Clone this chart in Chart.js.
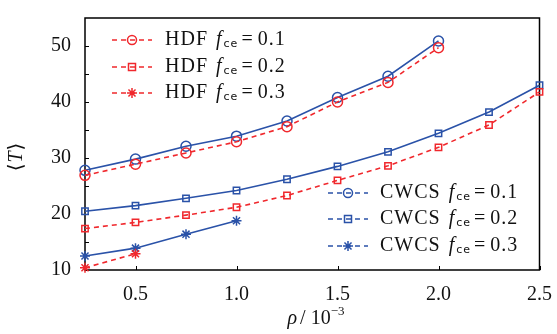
<!DOCTYPE html>
<html>
<head>
<meta charset="utf-8">
<script src="https://cdn.jsdelivr.net/npm/chart.js@4"></script>
<style>
  html, body { margin: 0; padding: 0; background: #fff; }
  #wrap { width: 557px; height: 334px; }
</style>
</head>
<body>
<div id="wrap"><canvas id="tChart" width="557" height="334"></canvas></div>
<script>
// x values (rho / 10^-3)
const rho = [0.25, 0.5, 0.75, 1.0, 1.25, 1.5, 1.75, 2.0, 2.25, 2.5];

// <T> values
const hdf01 = [26.9, 28.9, 30.9, 32.9, 35.6, 40.0, 43.5, 49.7];
const hdf02 = [17.4, 18.5, 19.8, 21.2, 23.3, 26.0, 28.6, 31.9, 35.9, 41.8];
const hdf03 = [10.4, 12.9];
const cwcs01 = [27.8, 29.8, 32.1, 33.9, 36.6, 40.8, 44.6, 50.9];
const cwcs02 = [20.5, 21.5, 22.8, 24.2, 26.2, 28.5, 31.1, 34.4, 38.2, 43.0];
const cwcs03 = [12.5, 13.9, 16.4, 18.8];

const xTicks = [0.5, 1.0, 1.5, 2.0, 2.5];
const yTicks = [10, 20, 30, 40, 50];
const yMinorTicks = [15, 25, 35, 45];

const fceValues = ['0.1', '0.2', '0.3'];

const RED = '#f0282d';
const BLUE = '#2a52a8';
const SERIF = '"Liberation Serif", "DejaVu Serif", serif';

function toPoints(values) {
    return values.map((v, i) => ({ x: rho[i], y: v }));
}

function makeSet(label, values, color, style, dashed) {
    return {
        label: label,
        data: toPoints(values),
        borderColor: color,
        backgroundColor: 'transparent',
        borderWidth: 1.6,
        borderDash: dashed ? [5, 4] : [],
        pointStyle: style,
        pointRadius: style === 'rect' ? 4.5 : 5,
        pointBorderColor: color,
        pointBackgroundColor: 'transparent',
        pointBorderWidth: 1.5,
        tension: 0,
        clip: false
    };
}

const datasets = [
    makeSet('HDF 0.1', hdf01, RED, 'circle', true),
    makeSet('HDF 0.2', hdf02, RED, 'rect', true),
    makeSet('HDF 0.3', hdf03, RED, 'star', true),
    makeSet('CWCS 0.1', cwcs01, BLUE, 'circle', false),
    makeSet('CWCS 0.2', cwcs02, BLUE, 'rect', false),
    makeSet('CWCS 0.3', cwcs03, BLUE, 'star', false)
];

// draws text pieces one after another (for italic / subscript bits)
function drawParts(ctx, x, y, parts) {
    ctx.textBaseline = 'middle';
    ctx.textAlign = 'left';
    parts.forEach(p => {
        ctx.font = p.font;
        ctx.fillText(p.t, x, y + (p.dy || 0));
        x += ctx.measureText(p.t).width + (p.gap || 0);
    });
}

function drawMarker(ctx, style, x, y, color) {
    ctx.save();
    ctx.setLineDash([]);
    ctx.strokeStyle = color;
    ctx.lineWidth = 1.5;
    ctx.beginPath();
    if (style === 'circle') {
        ctx.arc(x, y, 4.5, 0, Math.PI * 2);
    } else if (style === 'rect') {
        ctx.rect(x - 3.5, y - 3.5, 7, 7);
    } else {
        for (let k = 0; k < 4; k++) {
            const a = k * Math.PI / 4;
            ctx.moveTo(x - 5 * Math.cos(a), y - 5 * Math.sin(a));
            ctx.lineTo(x + 5 * Math.cos(a), y + 5 * Math.sin(a));
        }
    }
    ctx.stroke();
    ctx.restore();
}

function drawLegend(ctx, name, color, x0, ys, textX) {
    const styles = ['circle', 'rect', 'star'];
    ys.forEach((y, i) => {
        ctx.save();
        ctx.strokeStyle = color;
        ctx.lineWidth = 1.6;
        ctx.setLineDash([5, 4]);
        ctx.beginPath();
        ctx.moveTo(x0, y);
        ctx.lineTo(x0 + 40, y);
        ctx.stroke();
        ctx.restore();
        drawMarker(ctx, styles[i], x0 + 20, y, color);
        ctx.fillStyle = '#111';
        ctx.save();
        ctx.letterSpacing = '1px';
        drawParts(ctx, textX, y, [
            { t: name, font: '20px ' + SERIF, gap: 8 },
            { t: 'f', font: 'italic 20px ' + SERIF, gap: 1 },
            { t: 'ce', font: '11px "DejaVu Sans", sans-serif', dy: 4, gap: 3 },
            { t: '=', font: '20px ' + SERIF, gap: 4 },
            { t: fceValues[i], font: '20px ' + SERIF }
        ]);
        ctx.restore();
    });
}

const decorPlugin = {
    id: 'decor',
    beforeDatasetsDraw(chart) {
        const { ctx, chartArea: a, scales } = chart;
        ctx.save();
        ctx.strokeStyle = '#000';
        ctx.lineWidth = 1.5;
        ctx.strokeRect(a.left, a.top, a.right - a.left, a.bottom - a.top);
        // inward ticks
        ctx.lineWidth = 1;
        ctx.beginPath();
        yTicks.concat(yMinorTicks).forEach(v => {
            const y = Math.round(scales.y.getPixelForValue(v)) + 0.5;
            ctx.moveTo(a.left, y);
            ctx.lineTo(a.left + 4, y);
        });
        xTicks.forEach(v => {
            const x = Math.round(scales.x.getPixelForValue(v)) + 0.5;
            ctx.moveTo(x, a.bottom);
            ctx.lineTo(x, a.bottom - 4);
        });
        ctx.stroke();
        ctx.restore();
    },
    afterDraw(chart) {
        const { ctx } = chart;
        ctx.save();
        ctx.fillStyle = '#111';
        // x title
        const xParts = [
            { t: 'ρ', font: 'italic 20px ' + SERIF, gap: 3 },
            { t: '/ 10', font: '20px ' + SERIF },
            { t: '−3', font: '13px ' + SERIF, dy: -7 }
        ];
        let w = 0;
        xParts.forEach(p => { ctx.font = p.font; w += ctx.measureText(p.t).width + (p.gap || 0); });
        drawParts(ctx, 316 - w / 2, 319, xParts);
        // y title, rotated
        ctx.translate(17, 157);
        ctx.rotate(-Math.PI / 2);
        const yParts = [
            { t: '⟨', font: '20px "DejaVu Serif", serif', gap: 1 },
            { t: 'T', font: 'italic 20px ' + SERIF, gap: 1 },
            { t: '⟩', font: '20px "DejaVu Serif", serif' }
        ];
        w = 0;
        yParts.forEach(p => { ctx.font = p.font; w += ctx.measureText(p.t).width + (p.gap || 0); });
        drawParts(ctx, -w / 2, 0, yParts);
        ctx.restore();

        drawLegend(ctx, 'HDF', RED, 112, [40, 67, 93], 165);
        drawLegend(ctx, 'CWCS', BLUE, 328, [193, 219, 246], 380);
    }
};

new Chart(document.getElementById('tChart'), {
    type: 'line',
    data: { datasets: datasets },
    options: {
        responsive: false,
        animation: false,
        layout: { padding: { top: 13, right: 16, left: 0, bottom: 0 } },
        plugins: {
            legend: { display: false },
            tooltip: { enabled: false }
        },
        scales: {
            x: {
                type: 'linear',
                min: 0.25,
                max: 2.5,
                grid: { display: false },
                border: { display: false },
                afterBuildTicks: s => { s.ticks = xTicks.map(v => ({ value: v })); },
                afterFit: s => { s.height = 64; },
                ticks: {
                    padding: 5,
                    color: '#111',
                    font: { family: SERIF, size: 20 },
                    callback: v => Number(v).toFixed(1)
                }
            },
            y: {
                min: 10,
                max: 55,
                grid: { display: false },
                border: { display: false },
                afterBuildTicks: s => { s.ticks = yTicks.map(v => ({ value: v })); },
                afterFit: s => { s.width = 85; },
                ticks: {
                    padding: 6,
                    color: '#111',
                    font: { family: SERIF, size: 20 }
                }
            }
        }
    },
    plugins: [decorPlugin]
});
</script>
</body>
</html>
